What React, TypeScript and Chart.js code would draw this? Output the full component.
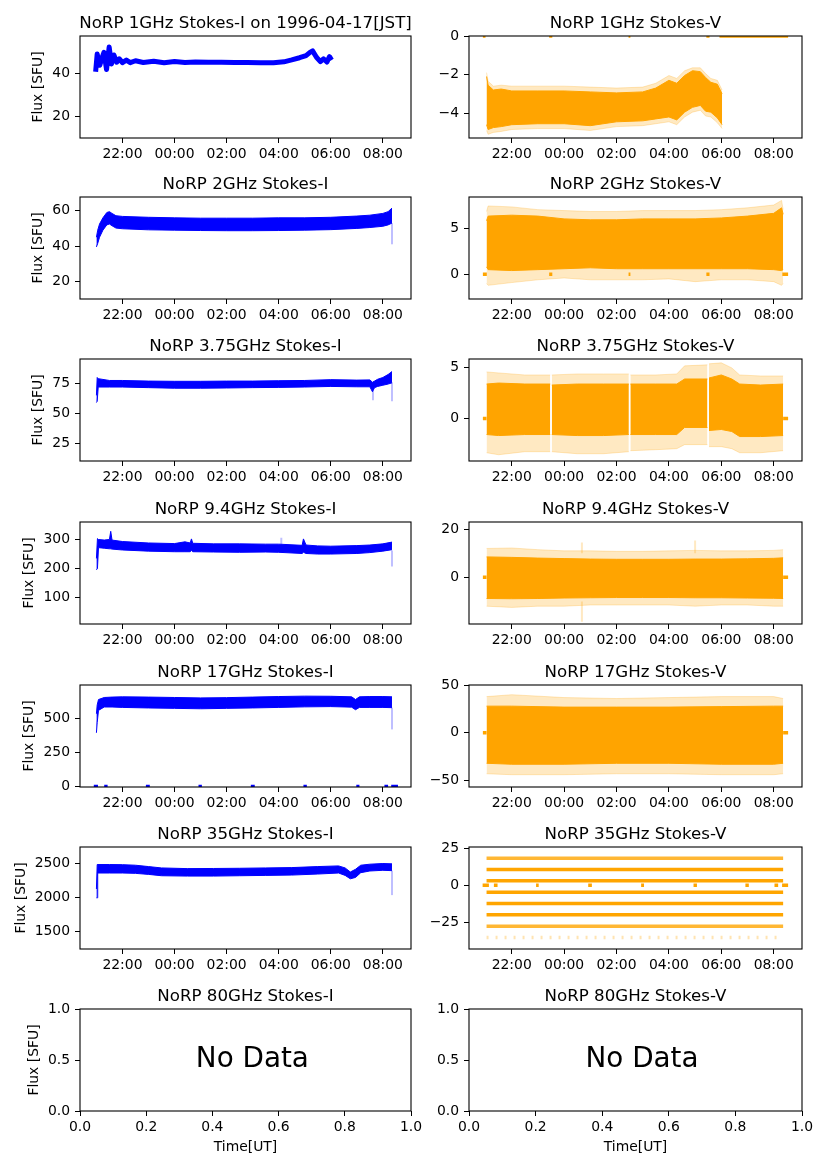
import React, { useEffect, useRef } from 'react';
import { Chart, registerables } from 'chart.js';

Chart.register(...registerables);

const FONT = '"DejaVu Sans", "Liberation Sans", sans-serif';
const TICK_PX = 13.9;
const TITLE_PX = 16.67;
const BLUE = '#0000ff';
const ORANGE = '#ffa500';
const FAINT_ORANGE = 'rgba(255,165,0,0.24)';
const FAINT_BLUE = 'rgba(0,0,255,0.25)';

// ---------- axes / ticks ----------
const X_RANGE = [20.37, 33.08]; // hours since 1996-04-16 00:00 UT
const X_TICKS = [22, 24, 26, 28, 30, 32];
const X_TICK_LABELS = ['22:00', '00:00', '02:00', '04:00', '06:00', '08:00'];
const ND_X_TICKS = [0, 0.2, 0.4, 0.6, 0.8, 1.0];
const ND_Y_TICKS = [0, 0.5, 1.0];

const TITLES_I = [
  'NoRP 1GHz Stokes-I on 1996-04-17[JST]',
  'NoRP 2GHz Stokes-I',
  'NoRP 3.75GHz Stokes-I',
  'NoRP 9.4GHz Stokes-I',
  'NoRP 17GHz Stokes-I',
  'NoRP 35GHz Stokes-I',
  'NoRP 80GHz Stokes-I',
];
const TITLES_V = [
  'NoRP 1GHz Stokes-V',
  'NoRP 2GHz Stokes-V',
  'NoRP 3.75GHz Stokes-V',
  'NoRP 9.4GHz Stokes-V',
  'NoRP 17GHz Stokes-V',
  'NoRP 35GHz Stokes-V',
  'NoRP 80GHz Stokes-V',
];

// y ranges and ticks
const YR_1G_I = [10, 57.4];
const YT_1G_I = [20, 40];
const YR_1G_V = [-5.29, 0];
const YT_1G_V = [-4, -2, 0];
const YR_2G_I = [10, 67.8];
const YT_2G_I = [20, 40, 60];
const YR_2G_V = [-2.68, 8.37];
const YT_2G_V = [0, 5];
const YR_375_I = [10, 95.5];
const YT_375_I = [25, 50, 75];
const YR_375_V = [-4.22, 5.88];
const YT_375_V = [0, 5];
const YR_94_I = [10, 360];
const YT_94_I = [100, 200, 300];
const YR_94_V = [-19.4, 23];
const YT_94_V = [0, 20];
const YR_17G_I = [-4, 747];
const YT_17G_I = [0, 250, 500];
const YR_17G_V = [-56.9, 50.2];
const YT_17G_V = [-50, 0, 50];
const YR_35G_I = [1247, 2748];
const YT_35G_I = [1500, 2000, 2500];
const YR_35G_V = [-42.7, 25.7];
const YT_35G_V = [-25, 0, 25];

// ---------- 1 GHz ----------
const T_1G_I = [20.97, 21.03, 21.13, 21.21, 21.29, 21.39, 21.49, 21.58, 21.67, 21.78, 21.88, 22.0, 22.15, 22.3, 22.5, 22.8, 23.2, 23.6, 24.0, 24.4, 24.8, 25.3, 25.8, 26.3, 26.8, 27.3, 27.8, 28.2, 28.5, 28.8, 29.05, 29.2, 29.3, 29.45, 29.6, 29.72, 29.85, 29.95, 30.03];
const F_1G_I = [40.8, 49.0, 43.8, 47.0, 49.8, 41.8, 52.3, 44.4, 48.6, 45.2, 46.8, 45.0, 46.2, 45.0, 45.9, 45.1, 45.7, 45.0, 45.5, 45.1, 45.3, 45.2, 45.2, 45.1, 45.1, 45.0, 45.0, 45.4, 46.3, 47.3, 48.3, 49.8, 50.5, 47.5, 45.5, 46.8, 45.3, 47.8, 46.2];

const T_1G_V = [21.04, 21.1, 21.3, 21.6, 22, 23, 24, 25, 26, 27, 27.5, 28.0, 28.3, 28.6, 28.9, 29.2, 29.4, 29.6, 29.85, 30.03];
const UP_1G_V = [-2.1, -2.55, -2.8, -2.75, -2.85, -2.85, -2.85, -2.9, -2.95, -2.9, -2.7, -2.3, -2.45, -2.05, -1.8, -1.85, -2.15, -2.4, -2.5, -3.0];
const LO_1G_V = [-4.6, -4.85, -4.75, -4.7, -4.6, -4.55, -4.55, -4.65, -4.45, -4.4, -4.3, -4.2, -4.35, -3.95, -3.7, -3.6, -3.9, -3.95, -4.25, -4.6];
const OUP_1G_V = [-1.9, -2.35, -2.6, -2.55, -2.6, -2.6, -2.6, -2.65, -2.7, -2.65, -2.45, -2.05, -2.2, -1.8, -1.65, -1.65, -1.95, -2.2, -2.3, -2.8];
const OLO_1G_V = [-4.9, -5.1, -5.0, -4.95, -4.85, -4.8, -4.8, -4.9, -4.7, -4.65, -4.55, -4.45, -4.6, -4.2, -3.95, -3.85, -4.15, -4.2, -4.5, -4.8];
const ZERO_1G_V = [[20.9, 21.0], [23.43, 23.55], [26.46, 26.53], [29.43, 29.55], [29.93, 32.55]];

// ---------- 2 GHz ----------
const T_2G_I = [21.0, 21.05, 21.12, 21.25, 21.4, 21.5, 21.6, 21.75, 22.0, 23.0, 24.0, 25.0, 26.0, 27.0, 28.0, 29.0, 30.0, 31.0, 31.5, 32.0, 32.2, 32.35];
const UP_2G_I = [45.0, 49.0, 52.5, 56.0, 59.0, 59.5, 58.5, 57.2, 56.8, 56.3, 56.0, 55.8, 55.8, 55.8, 56.0, 56.0, 56.3, 57.0, 57.5, 58.5, 59.5, 61.5];
const LO_2G_I = [39.5, 41.5, 45.0, 49.0, 52.0, 52.5, 51.5, 50.2, 49.8, 49.2, 49.0, 48.8, 48.7, 48.7, 48.8, 49.0, 49.3, 50.0, 50.5, 51.2, 52.0, 53.0];
const STREAK_2G_I = [[32.35, 41, 53]];

const T_2G_V = [21.04, 21.1, 22, 23, 24, 25, 26, 27, 28, 29, 30, 31, 32, 32.3, 32.36];
const UP_2G_V = [5.8, 6.3, 6.4, 6.3, 6.0, 5.9, 5.9, 6.0, 6.0, 6.0, 6.1, 6.3, 6.6, 7.2, 6.5];
const LO_2G_V = [0.8, 0.5, 0.4, 0.5, 0.6, 0.7, 0.6, 0.6, 0.6, 0.6, 0.6, 0.6, 0.5, 0.4, 0.5];
const OUP_2G_V = [6.8, 7.4, 7.3, 7.0, 6.9, 6.8, 6.8, 6.9, 6.9, 6.9, 7.0, 7.2, 7.5, 8.0, 7.0];
const OLO_2G_V = [-1.0, -1.2, -0.9, -0.6, -0.4, -0.6, -0.6, -0.6, -0.5, -0.8, -0.6, -0.6, -0.8, -1.2, -1.0];
const ZERO_2G_V = [[20.9, 21.05], [23.43, 23.55], [26.46, 26.53], [29.43, 29.55], [32.33, 32.55]];

// ---------- 3.75 GHz ----------
const T_375_I = [21.0, 21.03, 21.07, 21.5, 22, 23, 24, 25, 26, 27, 28, 29, 30, 31, 31.5, 31.6, 31.68, 31.8, 32.0, 32.2, 32.35];
const UP_375_I = [65, 80, 79, 77.5, 77.5, 77, 76.8, 76.8, 77, 77, 77.3, 77.5, 78.2, 77.8, 78, 76, 77, 78.5, 80, 82.5, 85];
const LO_375_I = [59, 60, 72, 72, 72, 71.5, 71, 71, 71.2, 71.5, 71.7, 72, 72.5, 72.2, 72.2, 68, 71.5, 72.5, 73.5, 74.5, 75.5];
const STREAK_375_I = [[31.62, 61, 69], [32.35, 60, 76]];

const T_375_V = [21.04, 21.5, 22.5, 23.47, 23.5, 23.53, 24.5, 25.5, 26.47, 26.5, 26.53, 27.5, 28.3, 28.6, 29.47, 29.5, 29.53, 30.0, 30.4, 30.7, 31.5, 32.36];
const UP_375_V = [3.4, 3.5, 3.4, 3.4, null, 3.3, 3.4, 3.4, 3.4, null, 3.4, 3.4, 3.4, 3.9, 3.9, null, 4.0, 4.3, 3.9, 3.4, 3.3, 3.4];
const LO_375_V = [-1.6, -1.7, -1.6, -1.6, null, -1.6, -1.7, -1.7, -1.6, null, -1.6, -1.6, -1.6, -0.9, -0.9, null, -1.2, -1.1, -1.3, -1.8, -1.8, -1.7];
const OUP_375_V = [4.6, 4.5, 4.3, 4.3, null, 4.3, 4.4, 4.4, 4.4, null, 4.3, 4.3, 4.4, 5.2, 5.3, null, 5.4, 5.5, 5.0, 4.3, 4.2, 4.2];
const OLO_375_V = [-3.4, -3.6, -3.3, -3.3, null, -3.3, -3.5, -3.5, -3.3, null, -3.2, -3.1, -3.0, -2.6, -2.6, null, -2.8, -2.8, -3.0, -3.4, -3.4, -3.2];
const ZERO_EDGE_V = [[20.9, 21.04], [32.36, 32.55]];

// ---------- 9.4 GHz ----------
const T_94_I = [21.0, 21.04, 21.08, 21.3, 21.5, 21.55, 21.6, 22.0, 23.0, 24.0, 24.4, 24.6, 24.65, 24.7, 25.5, 26.5, 27.5, 28.0, 28.9, 28.95, 29.05, 29.5, 30.0, 31.0, 31.5, 32.0, 32.35];
const UP_94_I = [235, 303, 300, 298, 300, 328, 298, 293, 288, 286, 292, 288, 302, 287, 285, 285, 284, 284, 280, 302, 281, 278, 277, 279, 281, 285, 291];
const LO_94_I = [196, 200, 272, 270, 268, 268, 267, 264, 260, 258, 258, 258, 262, 258, 257, 256, 257, 256, 252, 256, 252, 250, 250, 252, 255, 260, 265];
const STREAK_94_I = [[32.35, 207, 262], [28.1, 280, 306]];

const T_94_V = [21.04, 22, 23, 24, 25, 26, 27, 28, 29, 30, 31, 32, 32.36];
const UP_94_V = [8.5, 8.3, 8.0, 7.8, 7.6, 7.5, 7.5, 7.5, 7.6, 7.6, 7.7, 7.9, 8.1];
const LO_94_V = [-8.8, -8.9, -8.8, -8.6, -8.5, -8.4, -8.4, -8.4, -8.5, -8.5, -8.6, -8.7, -8.8];
const OUP_94_V = [12.0, 12.2, 11.5, 11.0, 11.0, 10.8, 10.8, 11.0, 11.2, 11.0, 11.0, 11.2, 11.5];
const OLO_94_V = [-12.0, -12.5, -12.0, -12.0, -11.5, -11.5, -11.5, -11.5, -12.0, -11.5, -11.5, -12.0, -12.0];
const STREAK_94_V = [[24.68, -18.5, -10], [24.68, 10, 14.5], [29.0, 10, 15.3]];

// ---------- 17 GHz ----------
const T_17G_I = [21.0, 21.03, 21.08, 21.3, 21.6, 22, 23, 24, 25, 26, 27, 28, 29, 30, 30.8, 30.95, 31.1, 31.5, 32, 32.35];
const UP_17G_I = [535, 600, 640, 655, 658, 660, 658, 655, 652, 654, 658, 662, 665, 664, 660, 640, 660, 662, 662, 660];
const LO_17G_I = [395, 470, 560, 585, 585, 582, 578, 575, 572, 575, 578, 582, 586, 588, 584, 565, 582, 582, 582, 580];
const STREAK_17G_I = [[32.35, 420, 580]];
const ZERO_17G_I = [[20.9, 21.06], [21.3, 21.43], [22.9, 23.05], [24.92, 25.05], [26.93, 27.08], [28.95, 29.08], [30.98, 31.1], [32.06, 32.2], [32.32, 32.58]];

const T_17G_V = [21.04, 22, 24, 26, 28, 30, 32, 32.36];
const UP_17G_V = [28, 28, 27, 27, 27, 27.5, 28, 28];
const LO_17G_V = [-32, -33, -33, -32, -32, -33, -33, -32];
const OUP_17G_V = [38, 40, 37, 36, 37, 38, 38, 36];
const OLO_17G_V = [-43, -44, -44, -43, -43, -44, -44, -43];

// ---------- 35 GHz ----------
const T_35G_I = [21.0, 21.03, 21.05, 21.5, 22.0, 22.5, 23.0, 23.5, 24.5, 25.5, 26.5, 27.5, 28.5, 29.5, 30.3, 30.55, 30.75, 30.95, 31.15, 31.5, 32.0, 32.35];
const UP_35G_I = [2130, 2490, 2490, 2490, 2488, 2480, 2460, 2440, 2430, 2432, 2435, 2440, 2445, 2460, 2470, 2440, 2380, 2420, 2480, 2495, 2505, 2500];
const LO_35G_I = [2000, 2000, 2365, 2365, 2365, 2360, 2345, 2325, 2320, 2320, 2325, 2330, 2335, 2350, 2365, 2330, 2280, 2300, 2370, 2395, 2405, 2400];
const STREAK_35G_I = [[32.35, 2040, 2400]];

const SPAN_35G_V = [21.04, 32.36];
const LEVELS_35G_V = [18.2, 10.6, 3.0, -4.6, -12.2, -19.8, -27.4, -35.0];
const ZERO_35G_V = [[20.89, 21.13], [21.32, 21.46], [22.93, 23.03], [24.92, 25.06], [26.94, 27.05], [28.94, 29.07], [30.92, 31.05], [32.03, 32.17], [32.32, 32.55]];

// ---------- layout ----------
const COL_LEFT = [80, 469];
const COL_W = [331, 333];
const ROW_TOP = [36, 197, 359, 522, 685, 847, 1009];
const AX_H = 102;
const YW = 80;
const TOPPAD = 36;
const RIGHTPAD = 16;
const XH = 30;
const BOTTOM_EXTRA = 30;

const minus = (s: string) => s.replace('-', '\u2212');

type Band = { t: number[]; up: (number | null)[]; lo: (number | null)[]; color: string };
type Panel = {
  title: string;
  row: number;
  col: number;
  yr: number[];
  yTicks: number[];
  nodata?: boolean;
  bands?: Band[];
  lines?: { t: number[]; v: number[]; color: string; width: number; dash?: number[] }[];
  zeros?: { segs: number[][]; color: string };
  streaks?: { segs: number[][]; color: string };
};

function buildDatasets(p: Panel) {
  const ds: any[] = [];
  const base = { pointRadius: 0, tension: 0, clip: 0, spanGaps: false };
  (p.bands || []).forEach((b) => {
    ds.push({ ...base, data: b.t.map((t, i) => ({ x: t, y: b.up[i] })), borderColor: b.color, backgroundColor: b.color, borderWidth: 1, fill: '+1' });
    ds.push({ ...base, data: b.t.map((t, i) => ({ x: t, y: b.lo[i] })), borderColor: b.color, backgroundColor: b.color, borderWidth: 1, fill: false });
  });
  (p.lines || []).forEach((l) => {
    ds.push({ ...base, data: l.t.map((t, i) => ({ x: t, y: l.v[i] })), borderColor: l.color, borderWidth: l.width, borderDash: l.dash || [], borderJoinStyle: 'round', fill: false });
  });
  if (p.streaks) {
    const pts: any[] = [];
    p.streaks.segs.forEach(([t, lo, hi]) => { pts.push({ x: t, y: lo }, { x: t, y: hi }, { x: t, y: null }); });
    ds.push({ ...base, data: pts, borderColor: p.streaks.color, borderWidth: 2, fill: false });
  }
  if (p.zeros) {
    const pts: any[] = [];
    p.zeros.segs.forEach(([a, b]) => { pts.push({ x: a, y: 0 }, { x: b, y: 0 }, { x: b, y: null }); });
    ds.push({ ...base, data: pts, borderColor: p.zeros.color, borderWidth: 3.5, borderCapStyle: 'butt', fill: false });
  }
  return ds;
}

function makeDecor(p: Panel) {
  return {
    id: 'decor',
    afterDraw(chart: any) {
      const { ctx, chartArea: a } = chart;
      ctx.save();
      ctx.strokeStyle = '#000';
      ctx.lineWidth = 1.1;
      ctx.strokeRect(a.left, a.top, a.right - a.left, a.bottom - a.top);
      ctx.fillStyle = '#000';
      ctx.font = `${TITLE_PX}px ${FONT}`;
      ctx.textAlign = 'center';
      ctx.textBaseline = 'alphabetic';
      ctx.fillText(p.title, (a.left + a.right) / 2, a.top - 8);
      if (p.nodata) {
        ctx.font = `27.8px ${FONT}`;
        ctx.textAlign = 'left';
        ctx.textBaseline = 'middle';
        ctx.fillText('No Data', a.left + 0.35 * (a.right - a.left), (a.top + a.bottom) / 2);
        ctx.font = `${TICK_PX}px ${FONT}`;
        ctx.textAlign = 'center';
        ctx.textBaseline = 'alphabetic';
        ctx.fillText('Time[UT]', (a.left + a.right) / 2, a.bottom + 40);
      }
      if (p.col === 0) {
        ctx.font = `${TICK_PX}px ${FONT}`;
        const labels = chart.scales.y.ticks.map((t: any) => String(t.label));
        const w = Math.max(...labels.map((l: string) => ctx.measureText(l).width));
        const cx = a.left - 10 - w - 5.6 - 8;
        ctx.translate(cx, (a.top + a.bottom) / 2);
        ctx.rotate(-Math.PI / 2);
        ctx.textAlign = 'center';
        ctx.textBaseline = 'middle';
        ctx.fillText('Flux [SFU]', 0, 0);
      }
      ctx.restore();
    },
  };
}

function PanelChart({ p }: { p: Panel }) {
  const ref = useRef<HTMLCanvasElement>(null);
  const left = COL_LEFT[p.col] - YW;
  const top = ROW_TOP[p.row] - TOPPAD;
  const w = YW + COL_W[p.col] + RIGHTPAD;
  const extra = p.nodata ? BOTTOM_EXTRA : 0;
  const h = TOPPAD + AX_H + XH + extra;
  useEffect(() => {
    const xMin = p.nodata ? 0 : X_RANGE[0];
    const xMax = p.nodata ? 1 : X_RANGE[1];
    const xTicks = p.nodata ? ND_X_TICKS : X_TICKS;
    const tickFont = { family: FONT, size: TICK_PX };
    const grid = { display: true, drawOnChartArea: false, drawTicks: true, tickLength: 5, tickWidth: 1, tickColor: '#000' };
    const chart = new Chart(ref.current as HTMLCanvasElement, {
      type: 'line',
      data: { datasets: buildDatasets(p) },
      options: {
        responsive: false,
        animation: false,
        devicePixelRatio: 1,
        events: [],
        layout: { padding: { top: TOPPAD, left: 0, right: RIGHTPAD, bottom: extra } },
        plugins: { legend: { display: false }, tooltip: { enabled: false }, title: { display: false } },
        scales: {
          x: {
            type: 'linear',
            min: xMin,
            max: xMax,
            afterBuildTicks: (s: any) => { s.ticks = xTicks.map((v) => ({ value: v })); },
            afterFit: (s: any) => { s.height = XH; },
            ticks: {
              padding: 3,
              color: '#000',
              font: tickFont,
              maxRotation: 0,
              autoSkip: false,
              callback: (v: any) => (p.nodata ? Number(v).toFixed(1) : X_TICK_LABELS[X_TICKS.indexOf(Number(v))]),
            },
            grid,
            border: { display: false },
          },
          y: {
            type: 'linear',
            min: p.yr[0],
            max: p.yr[1],
            afterBuildTicks: (s: any) => { s.ticks = p.yTicks.map((v) => ({ value: v })); },
            afterFit: (s: any) => { s.width = YW; },
            ticks: {
              padding: 5,
              color: '#000',
              font: tickFont,
              autoSkip: false,
              callback: (v: any) => (p.nodata ? Number(v).toFixed(1) : minus(String(v))),
            },
            grid,
            border: { display: false },
          },
        },
      } as any,
      plugins: [makeDecor(p)],
    });
    return () => chart.destroy();
  }, []);
  return (
    <canvas
      ref={ref}
      width={w}
      height={h}
      style={{ position: 'absolute', left, top, width: w, height: h }}
    />
  );
}

const solidB = (t: number[], up: any[], lo: any[]): Band => ({ t, up, lo, color: BLUE });
const solidO = (t: number[], up: any[], lo: any[]): Band => ({ t, up, lo, color: ORANGE });
const faintO = (t: number[], up: any[], lo: any[]): Band => ({ t, up, lo, color: FAINT_ORANGE });

const LEVEL_COLORS = ['rgba(255,165,0,0.8)', ORANGE, ORANGE, ORANGE, ORANGE, ORANGE, 'rgba(255,165,0,0.8)', 'rgba(255,165,0,0.3)'];

const PANELS: Panel[] = [
  { title: TITLES_I[0], row: 0, col: 0, yr: YR_1G_I, yTicks: YT_1G_I, lines: [{ t: T_1G_I, v: F_1G_I, color: BLUE, width: 5 }] },
  { title: TITLES_V[0], row: 0, col: 1, yr: YR_1G_V, yTicks: YT_1G_V, bands: [faintO(T_1G_V, OUP_1G_V, OLO_1G_V), solidO(T_1G_V, UP_1G_V, LO_1G_V)], zeros: { segs: ZERO_1G_V, color: ORANGE } },
  { title: TITLES_I[1], row: 1, col: 0, yr: YR_2G_I, yTicks: YT_2G_I, bands: [solidB(T_2G_I, UP_2G_I, LO_2G_I)], streaks: { segs: STREAK_2G_I, color: FAINT_BLUE } },
  { title: TITLES_V[1], row: 1, col: 1, yr: YR_2G_V, yTicks: YT_2G_V, bands: [faintO(T_2G_V, OUP_2G_V, OLO_2G_V), solidO(T_2G_V, UP_2G_V, LO_2G_V)], zeros: { segs: ZERO_2G_V, color: ORANGE } },
  { title: TITLES_I[2], row: 2, col: 0, yr: YR_375_I, yTicks: YT_375_I, bands: [solidB(T_375_I, UP_375_I, LO_375_I)], streaks: { segs: STREAK_375_I, color: FAINT_BLUE } },
  { title: TITLES_V[2], row: 2, col: 1, yr: YR_375_V, yTicks: YT_375_V, bands: [faintO(T_375_V, OUP_375_V, OLO_375_V), solidO(T_375_V, UP_375_V, LO_375_V)], zeros: { segs: ZERO_EDGE_V, color: ORANGE } },
  { title: TITLES_I[3], row: 3, col: 0, yr: YR_94_I, yTicks: YT_94_I, bands: [solidB(T_94_I, UP_94_I, LO_94_I)], streaks: { segs: STREAK_94_I, color: FAINT_BLUE } },
  { title: TITLES_V[3], row: 3, col: 1, yr: YR_94_V, yTicks: YT_94_V, bands: [faintO(T_94_V, OUP_94_V, OLO_94_V), solidO(T_94_V, UP_94_V, LO_94_V)], zeros: { segs: ZERO_EDGE_V, color: ORANGE }, streaks: { segs: STREAK_94_V, color: FAINT_ORANGE } },
  { title: TITLES_I[4], row: 4, col: 0, yr: YR_17G_I, yTicks: YT_17G_I, bands: [solidB(T_17G_I, UP_17G_I, LO_17G_I)], streaks: { segs: STREAK_17G_I, color: FAINT_BLUE }, zeros: { segs: ZERO_17G_I, color: BLUE } },
  { title: TITLES_V[4], row: 4, col: 1, yr: YR_17G_V, yTicks: YT_17G_V, bands: [faintO(T_17G_V, OUP_17G_V, OLO_17G_V), solidO(T_17G_V, UP_17G_V, LO_17G_V)], zeros: { segs: ZERO_EDGE_V, color: ORANGE } },
  { title: TITLES_I[5], row: 5, col: 0, yr: YR_35G_I, yTicks: YT_35G_I, bands: [solidB(T_35G_I, UP_35G_I, LO_35G_I)], streaks: { segs: STREAK_35G_I, color: FAINT_BLUE } },
  {
    title: TITLES_V[5], row: 5, col: 1, yr: YR_35G_V, yTicks: YT_35G_V,
    lines: LEVELS_35G_V.map((lv, i) => ({ t: SPAN_35G_V, v: [lv, lv], color: LEVEL_COLORS[i], width: 3.5, dash: i === LEVELS_35G_V.length - 1 ? [2, 7] : undefined })),
    zeros: { segs: ZERO_35G_V, color: ORANGE },
  },
  { title: TITLES_I[6], row: 6, col: 0, yr: [0, 1], yTicks: ND_Y_TICKS, nodata: true },
  { title: TITLES_V[6], row: 6, col: 1, yr: [0, 1], yTicks: ND_Y_TICKS, nodata: true },
];

export default function App() {
  return (
    <div style={{ position: 'absolute', left: 0, top: 0, width: 827, height: 1169, background: '#fff', overflow: 'hidden' }}>
      {PANELS.map((p, i) => (
        <PanelChart key={i} p={p} />
      ))}
    </div>
  );
}
